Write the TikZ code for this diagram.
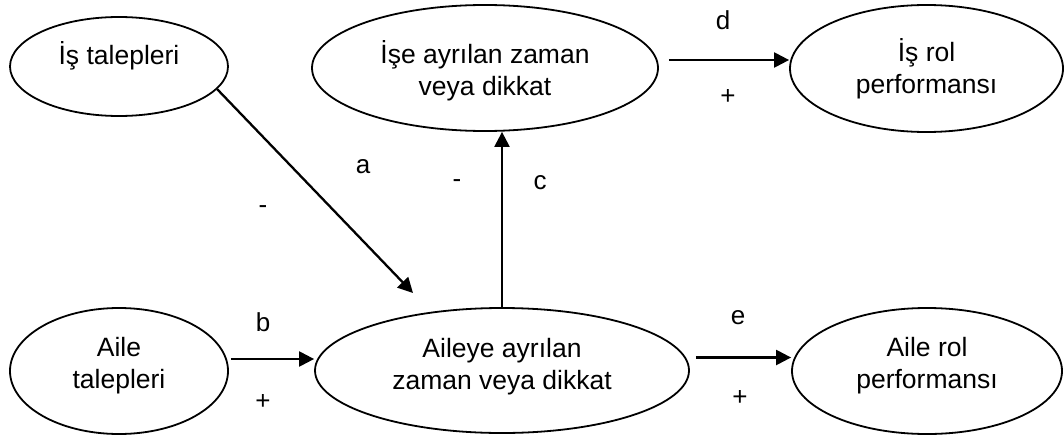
\documentclass[tikz,border=0pt]{standalone}
\usepackage{fontspec}
\setmainfont{Liberation Sans}
\usetikzlibrary{shapes.geometric,arrows.meta,calc}
\begin{document}
\begin{tikzpicture}[x=1pt,y=-1pt,
  ell/.style={draw,ellipse,line width=1.8pt,inner sep=0pt},
  txt/.style={font=\fontsize{26.5}{32}\selectfont,align=center,inner sep=0pt},
  arr/.style={line width=2.3pt,-{Triangle[length=15pt,width=15pt]}},
  lab/.style={font=\fontsize{26}{30}\selectfont,inner sep=0pt}]
\useasboundingbox (0,0) rectangle (1064,436);
\node[ell,minimum width=218pt,minimum height=99pt,label={[txt,yshift=10.5pt]center:{İş talepleri}}] (t1) at (119,66.5) {};
\node[ell,minimum width=346pt,minimum height=126pt,label={[txt,yshift=-3pt]center:{İşe ayrılan zaman\\veya dikkat}}] (w1) at (485,68) {};
\node[ell,minimum width=273pt,minimum height=127pt,label={[txt]center:{İş rol\\performansı}}] (r1) at (926.5,68.5) {};
\node[ell,minimum width=218pt,minimum height=126pt,label={[txt,yshift=5pt]center:{Aile\\talepleri}}] (t2) at (119,371) {};
\node[ell,minimum width=374pt,minimum height=125pt,label={[txt,yshift=4pt]center:{Aileye ayrılan\\zaman veya dikkat}}] (w2) at (502,370.5) {};
\node[ell,minimum width=270pt,minimum height=126pt,label={[txt,yshift=5pt]center:{Aile rol\\performansı}}] (r2) at (927,371) {};
\coordinate (aend) at (413,293);
\coordinate (bstart) at ($(t2.east)+(2,-12)$);
\coordinate (dstart) at ($(w1.east)+(10,-8)$);
\coordinate (estart) at ($(w2.east)+(6,-13)$);
\draw[arr] (t1.-13) -- (aend);
\draw[arr] (bstart) -- (bstart -| w2.west);
\draw[arr] (w2.north) -- (w2.north |- w1.south);
\draw[arr] (dstart) -- (dstart -| r1.west);
\draw[arr] (estart) -- (estart -| r2.west);
\node[lab] (la) at (363,167) {a};
\node[lab] (lam) at (263,210) {-};
\node[lab] (lcm) at (457,184) {-};
\node[lab] (lc) at (540,183) {c};
\node[lab] (ld) at (723,20) {d};
\node[lab] (ldp) at (728,97) {+};
\node[lab] (lb) at (263,322) {b};
\node[lab] (lbp) at (263,402) {+};
\node[lab] (le) at (738,318) {e};
\node[lab] (lep) at (740,398) {+};
\end{tikzpicture}
\end{document}
